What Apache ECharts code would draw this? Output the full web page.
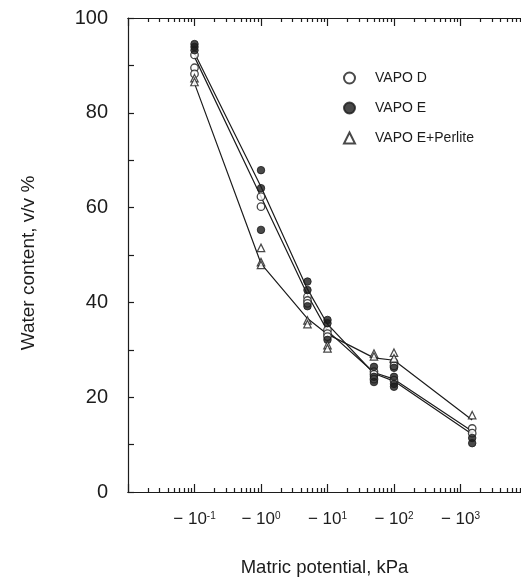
<!DOCTYPE html>
<html>
<head>
<meta charset="utf-8">
<script src="https://cdn.jsdelivr.net/npm/echarts@6/dist/echarts.min.js"></script>
<style>html,body{margin:0;padding:0;background:#fff}#c{width:521px;height:583px}</style>
</head>
<body>
<div id="c"></div>
<script>
// Matric potential (kPa, absolute value; axis is log scale, labels negative)
const potentials = [0.1, 1, 5, 10, 50, 100, 1500];
// Replicate measurements per potential (water content, v/v %)
const vapoD = [[92.2, 89.5, 88.2], [62.3, 60.2], [41.2, 40.4, 39.8], [34.2, 33.4, 32.8], [25.4, 24.8, 23.8], [27.4, 26.6, 23.6], [13.4, 12.4]];
const vapoE = [[94.5, 93.9, 93.2], [67.9, 64.1, 55.3], [44.4, 42.6, 39.2], [36.3, 35.6, 32.1], [26.4, 24.3, 23.2], [26.2, 24.3, 22.8, 22.2], [11.4, 10.3]];
const vapoEP = [[87.3, 86.5], [51.5, 48.5, 47.9], [36.2, 35.4], [31.0, 30.3], [29.2, 28.6], [29.4, 28.2], [16.2]];
// Fitted/connecting lines
const lineD = [91.8, 62.3, 41.6, 34.0, 25.2, 23.8, 12.8];
const lineE = [92.6, 64.4, 42.8, 35.4, 25.0, 23.4, 12.2];
const lineEP = [86.2, 48.2, 36.6, 33.3, 28.3, 27.8, 15.2];
const seriesNames = ['VAPO D', 'VAPO E', 'VAPO E+Perlite'];
const yTicks = [0, 20, 40, 60, 80, 100];
const xDecades = [-1, 0, 1, 2, 3];

const lg = Math.log10;
const XMIN = -2, XMAX = 3.91;
function pts(arr) {
  const out = [];
  arr.forEach((vals, i) => vals.forEach(v => out.push([lg(potentials[i]), v])));
  return out;
}
function lpts(arr) { return arr.map((v, i) => [lg(potentials[i]), v]); }

const majors = [-2, -1, 0, 1, 2, 3];
const minors = [];
for (let d = -2; d <= 3; d++) for (let k = 2; k <= 9; k++) { const v = d + lg(k); if (v <= XMAX) minors.push(v); }
const sup = {'-1': '-1', '0': '0', '1': '1', '2': '2', '3': '3'};

const ink = '#1c1c1c';
const font = "'Liberation Sans', Arial, sans-serif";
function xAx(pos, ticks, len, showLabel) {
  return {
    type: 'value', position: pos, min: XMIN, max: XMAX,
    axisLine: {show: true, onZero: false, lineStyle: {color: ink, width: 1.2}},
    axisTick: {show: true, inside: true, length: len, customValues: ticks, lineStyle: {color: ink, width: 1.2}},
    splitLine: {show: false},
    axisLabel: showLabel ? {
      show: true, customValues: xDecades, margin: 19,
      formatter: v => '{b|\u2212 10}{s|' + sup[String(Math.round(v))] + '}',
      rich: {b: {fontSize: 17, color: ink, fontFamily: font}, s: {fontSize: 10, color: ink, fontFamily: font, verticalAlign: 'top'}}
    } : {show: false}
  };
}
const xAxes = [xAx('bottom', majors, 8, true), xAx('bottom', minors, 4, false), xAx('top', majors, 8, false), xAx('top', minors, 4, false)];
xAxes[0].name = 'Matric potential, kPa';
xAxes[0].nameLocation = 'middle';
xAxes[0].nameGap = 66;
xAxes[0].nameTextStyle = {fontSize: 18.5, color: ink, fontFamily: font};

const symStyles = [
  {symbol: 'circle', size: 7.5, itemStyle: {color: '#fff', borderColor: ink, borderWidth: 1.3}},
  {symbol: 'circle', size: 7.5, itemStyle: {color: ink, borderColor: ink, borderWidth: 1}},
  {symbol: 'triangle', size: 7.5, itemStyle: {color: '#fff', borderColor: ink, borderWidth: 1.2}}
];
const dataSets = [vapoD, vapoE, vapoEP];
const lineSets = [lineD, lineE, lineEP];
const series = [];
lineSets.forEach((l, i) => series.push({
  name: seriesNames[i] + ' line', type: 'line', data: lpts(l), symbol: 'none', silent: true,
  lineStyle: {color: ink, width: 1.2}, z: 1
}));
dataSets.forEach((d, i) => series.push({
  name: seriesNames[i], type: 'scatter', data: pts(d), symbol: symStyles[i].symbol,
  symbolSize: symStyles[i].size, itemStyle: symStyles[i].itemStyle, z: 3
}));

const chart = echarts.init(document.getElementById('c'), null, {renderer: 'canvas'});
chart.setOption({
  animation: false,
  backgroundColor: '#fff',
  grid: {left: 128, top: 18, right: 0, bottom: 91, containLabel: false},
  legend: {
    data: seriesNames, orient: 'vertical', left: 338, top: 66, itemWidth: 11, itemHeight: 11, itemGap: 16,
    textStyle: {fontSize: 14, color: ink, fontFamily: font, padding: [0, 0, 0, 15]}
  },
  xAxis: xAxes,
  yAxis: {
    type: 'value', min: 0, max: 100, interval: 10,
    name: 'Water content, v/v %', nameLocation: 'middle', nameGap: 90,
    nameTextStyle: {fontSize: 19, color: ink, fontFamily: font, padding: [0, 16, 0, 0]},
    axisLine: {show: true, onZero: false, lineStyle: {color: ink, width: 1.2}},
    axisTick: {show: true, inside: true, length: 6, lineStyle: {color: ink, width: 1.2}},
    splitLine: {show: false},
    axisLabel: {fontSize: 20, color: ink, fontFamily: font, margin: 20, formatter: v => yTicks.includes(v) ? String(v) : ''}
  },
  series: series
});
</script>
</body>
</html>
